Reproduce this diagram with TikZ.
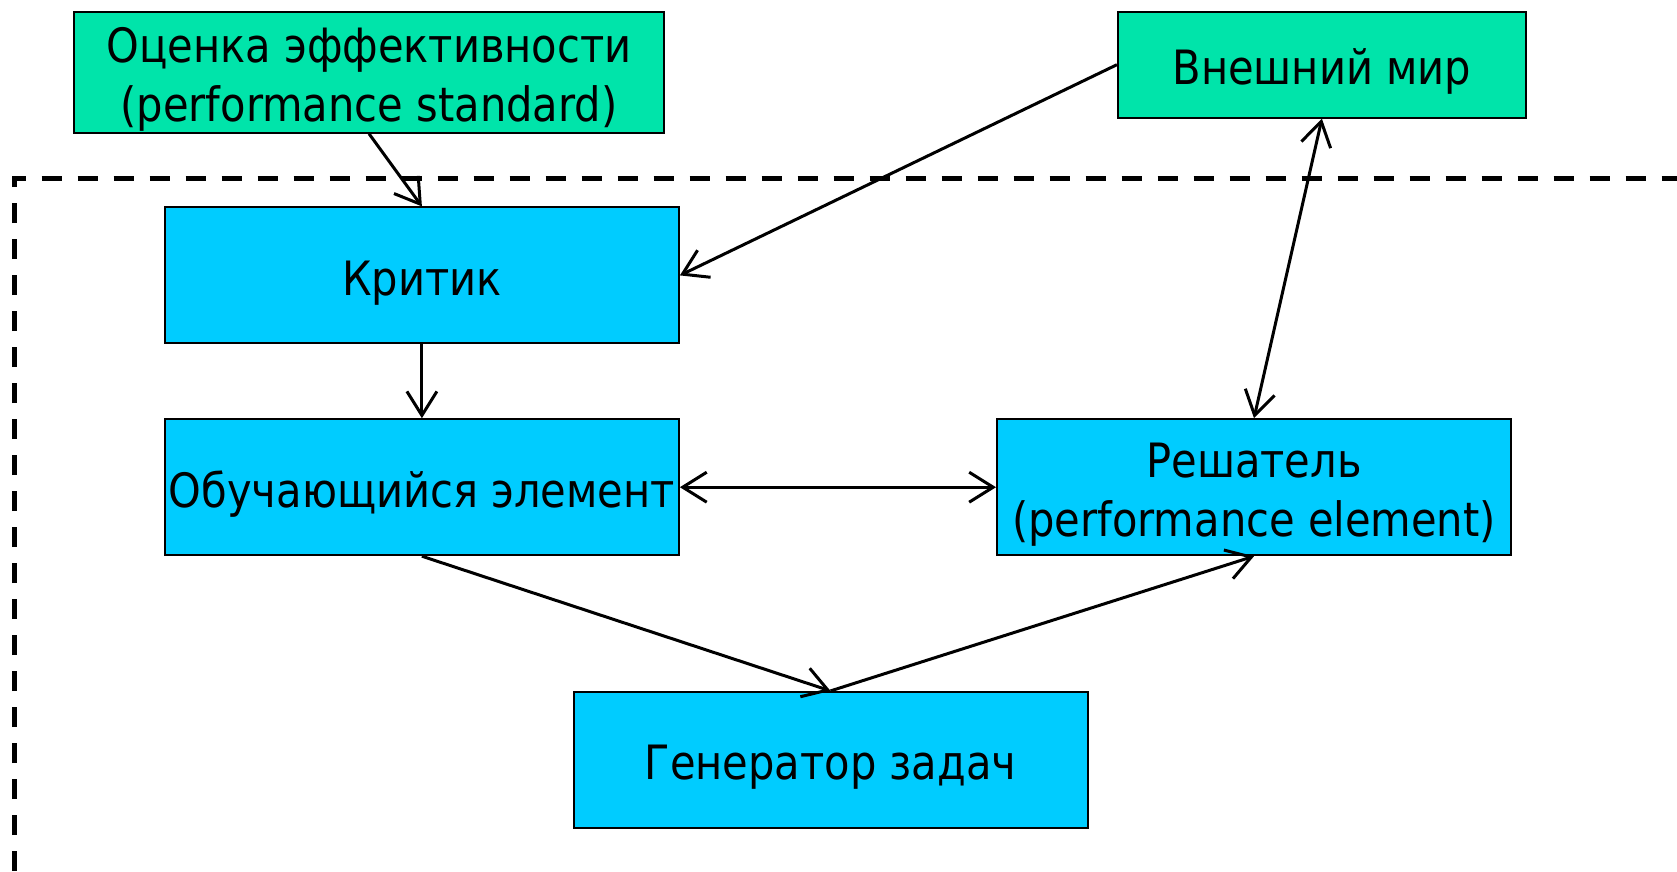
\documentclass[tikz,border=0pt]{standalone}
\usepackage{fontspec}
\setmainfont{DejaVu Sans}[FakeStretch=0.88]
\usetikzlibrary{arrows.meta}
\definecolor{boxgreen}{RGB}{0,228,170}
\definecolor{boxblue}{RGB}{0,204,255}
\newcommand\lifttext{\rule{0pt}{50pt}}
\tikzset{
  basebox/.style={draw=black, line width=2pt, minimum width=514pt, minimum height=136pt,
    inner sep=0pt, align=center, font=\fontsize{47.3}{59}\selectfont},
  greenbox/.style={basebox, fill=boxgreen},
  bluebox/.style={basebox, fill=boxblue},
  conn/.style={line width=3pt, -{Straight Barb[length=24pt,width=30pt,line width=3pt]}},
  biconn/.style={line width=3pt, {Straight Barb[length=24pt,width=30pt,line width=3pt]}-{Straight Barb[length=24pt,width=30pt,line width=3pt]}},
  frame/.style={line width=5pt, dash pattern=on 20pt off 16pt}
}
\begin{document}
\begin{tikzpicture}[x=1pt,y=-1pt]
\useasboundingbox[fill=white] (0,0) rectangle (1677,871);
\coordinate (fa) at (14,871);
\coordinate (fb) at (14,178.5);
\coordinate (fc) at (1677,178.5);
\draw[frame] (fa) -- (fb) -- (fc);
\node[greenbox, minimum width=590pt, minimum height=121pt] (ocenka) at (369,72.2) {\lifttext Оценка эффективности\\(performance standard)};
\node[greenbox, minimum width=408pt, minimum height=106pt] (vnesh) at (1321.9,64.7) {\lifttext Внешний мир};
\node[bluebox] (krit) at (421.9,275.4) {\lifttext Критик};
\node[bluebox] (obuch) at (421.9,487.2) {\lifttext Обучающийся элемент};
\node[bluebox] (resh) at (1254,487.2) {\lifttext Решатель\\(performance element)};
\node[bluebox] (gen) at (830.5,759.9) {\lifttext Генератор задач};
\draw[conn] (ocenka.south) -- (krit.north);
\draw[conn] (vnesh.west) -- (krit.east);
\draw[conn] (krit.south) -- (obuch.north);
\draw[biconn] (obuch.east) -- (resh.west);
\draw[biconn] (resh.north) -- (vnesh.south);
\draw[conn] (obuch.south) -- (gen.north);
\draw[conn] (gen.north) -- (resh.south);
\end{tikzpicture}
\end{document}
